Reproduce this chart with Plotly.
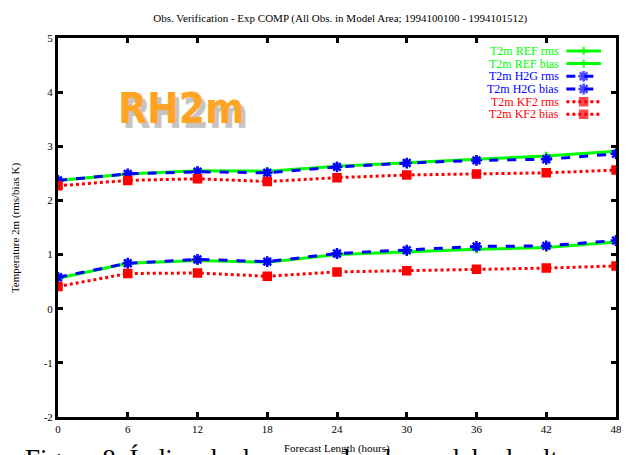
import plotly.graph_objects as go

hours = [0, 6, 12, 18, 24, 30, 36, 42, 48]
ref_rms = [2.37, 2.49, 2.55, 2.54, 2.63, 2.70, 2.76, 2.82, 2.91]
ref_bias = [0.56, 0.84, 0.89, 0.86, 1.00, 1.05, 1.10, 1.13, 1.23]
h2g_rms = [2.37, 2.49, 2.53, 2.51, 2.62, 2.69, 2.74, 2.76, 2.86]
h2g_bias = [0.58, 0.84, 0.91, 0.87, 1.02, 1.08, 1.15, 1.16, 1.26]
kf2_rms = [2.27, 2.37, 2.40, 2.35, 2.42, 2.47, 2.49, 2.51, 2.56]
kf2_bias = [0.41, 0.65, 0.66, 0.60, 0.68, 0.70, 0.73, 0.75, 0.79]
series_names = ["T2m REF rms", "T2m REF bias", "T2m H2G rms",
                "T2m H2G bias", "T2m KF2 rms", "T2m KF2 bias"]
x_ticks = [0, 6, 12, 18, 24, 30, 36, 42, 48]
y_ticks = [-2, -1, 0, 1, 2, 3, 4, 5]

GREEN, BLUE, RED = "#00ff00", "#0000ff", "#ff0000"
SERIF = "Liberation Serif"

values = [ref_rms, ref_bias, h2g_rms, h2g_bias, kf2_rms, kf2_bias]
styles = [
    (GREEN, "solid", "cross-thin", 6),
    (GREEN, "solid", "cross-thin", 6),
    (BLUE, "dash", "asterisk", 9),
    (BLUE, "dash", "asterisk", 9),
    (RED, "dot", "square", 7),
    (RED, "dot", "square", 7),
]

fig = go.Figure()
annotations = []
for i, (name, vals, (col, dash, sym, sz)) in enumerate(zip(series_names, values, styles)):
    fig.add_trace(go.Scatter(
        x=hours, y=vals, mode="lines+markers", name=name, showlegend=False,
        line=dict(color=col, width=3, dash=dash),
        marker=dict(symbol=sym, size=sz, color=col, line=dict(color=col, width=2.5)),
    ))
    # legend sample (on a hidden 0..1 overlay axis), text on the left, like gnuplot
    ly = 0.966 - i * 0.0335
    fig.add_trace(go.Scatter(
        x=[0.911, 0.942, 0.973], y=[ly, ly, ly], xaxis="x2", yaxis="y2",
        mode="lines+markers", showlegend=False, hoverinfo="skip",
        line=dict(color=col, width=3, dash=dash),
        marker=dict(symbol=sym, size=[0, sz, 0], color=col, line=dict(color=col, width=2.5)),
    ))
    annotations.append(dict(text=name, xref="paper", yref="paper", x=0.902, y=ly,
                            xanchor="right", yanchor="middle", showarrow=False,
                            font=dict(family=SERIF, size=12, color=col)))

axis_common = dict(showline=True, linecolor="black", linewidth=3, mirror="ticks",
                   ticks="inside", ticklen=5, tickwidth=3, tickcolor="black",
                   showgrid=False, zeroline=False,
                   tickfont=dict(family=SERIF, size=11, color="black"))

fig.update_xaxes(range=[0, 48], tickvals=x_ticks, **axis_common)
fig.update_yaxes(range=[-2, 5], tickvals=y_ticks,
                 ticktext=[str(v) for v in y_ticks], **axis_common)

annotations += [
    dict(text="Figure 8. Índice de desempenho do modelo de alta resolução",
         xref="paper", yref="paper", x=-0.062, y=-0.111, xanchor="left", yanchor="middle",
         showarrow=False, font=dict(family=SERIF, size=27, color="black")),
    dict(text="Forecast Length (hours)", xref="paper", yref="paper",
         x=0.5, y=-0.084, xanchor="center", yanchor="middle", showarrow=False,
         font=dict(family=SERIF, size=11, color="black")),
    dict(text="Temperature 2m (rms/bias K)", xref="paper", yref="paper",
         x=-0.076, y=0.5, xanchor="center", yanchor="middle", textangle=-90,
         showarrow=False, font=dict(family=SERIF, size=11, color="black")),
    dict(text="<b>RH2m</b>", xref="paper", yref="paper", x=0.22, y=0.815,
         xanchor="center", yanchor="middle", showarrow=False,
         font=dict(family="DejaVu Sans Condensed, DejaVu Sans", size=42,
                   color="#ffa424", shadow="4px 5px 1px #c4c4c4")),
]

fig.update_layout(
    width=621, height=447,
    margin=dict(l=50, r=7, t=30, b=38),
    paper_bgcolor="white", plot_bgcolor="white",
    xaxis2=dict(overlaying="x", range=[0, 1], visible=False),
    yaxis2=dict(overlaying="y", range=[0, 1], visible=False),
    title=dict(text="Obs. Verification - Exp COMP (All Obs. in Model Area; 1994100100 - 1994101512)",
               x=0.535, xanchor="center", y=0.978, yanchor="middle",
               font=dict(family=SERIF, size=11, color="black")),
    annotations=annotations,
)

fig.write_html("out.html")
